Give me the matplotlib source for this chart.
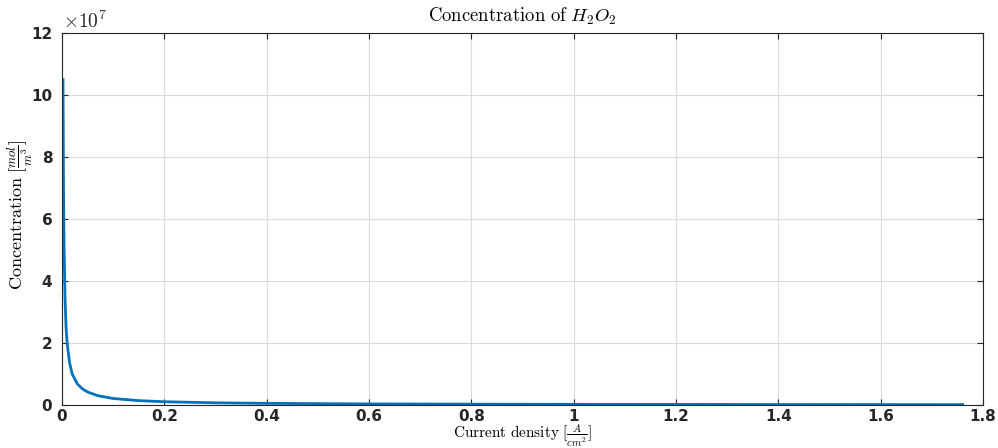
import matplotlib
matplotlib.use('Agg')
import matplotlib.pyplot as plt
from matplotlib.ticker import FuncFormatter

plt.rcParams['mathtext.fontset'] = 'cm'

# current density [A/cm^2] and H2O2 concentration (in units of 1e7 mol/m^3)
current_density = [0.002, 0.003, 0.004, 0.006, 0.008, 0.010, 0.015, 0.020, 0.030, 0.040,
                   0.050, 0.070, 0.100, 0.150, 0.200, 0.300, 0.400, 0.600, 0.800,
                   1.000, 1.200, 1.400, 1.600, 1.760]
concentration_e7 = [10.5, 7.0, 5.2, 3.4, 2.5, 2.0, 1.35, 1.0, 0.68, 0.52,
                    0.42, 0.30, 0.21, 0.14, 0.105, 0.07, 0.053, 0.035, 0.027,
                    0.021, 0.018, 0.015, 0.013, 0.012]

xticks = [0, 0.2, 0.4, 0.6, 0.8, 1, 1.2, 1.4, 1.6, 1.8]
yticks = [0, 2, 4, 6, 8, 10, 12]

fig = plt.figure(figsize=(9.98, 4.48), dpi=100)
ax = fig.add_axes([0.0621, 0.096, 0.923, 0.830])

ax.plot(current_density, concentration_e7, color='#0072BD', linewidth=2)

ax.set_xlim(0, 1.8)
ax.set_ylim(0, 12)
ax.set_xticks(xticks)
ax.set_yticks(yticks)
ax.xaxis.set_major_formatter(FuncFormatter(lambda v, p: '%g' % v))
ax.yaxis.set_major_formatter(FuncFormatter(lambda v, p: '%g' % v))

for lab in ax.get_xticklabels() + ax.get_yticklabels():
    lab.set_fontweight('bold')
    lab.set_fontsize(11)
    lab.set_color('#262626')

ax.tick_params(direction='in', top=True, right=True, length=4, color='#262626')
ax.tick_params(axis='x', pad=3)
ax.tick_params(axis='y', pad=7)
ax.grid(True, color='#dcdcdc', linewidth=0.8)
ax.set_axisbelow(True)
for s in ax.spines.values():
    s.set_color('#262626')
    s.set_linewidth(0.8)

ax.set_title(r'$\mathrm{Concentration\ of\ }H_2O_2$', fontsize=13.5, pad=8)
ax.set_xlabel(r'$\mathrm{Current\ density}\ [\frac{A}{cm^2}]$', fontsize=11, va='center')
ax.xaxis.set_label_coords(0.5, -0.083)
ax.set_ylabel(r'$\mathrm{Concentration}\ [\frac{mol}{m^3}]$', fontsize=13, va='center')
ax.yaxis.set_label_coords(-0.045, 0.513)

# exponent label above the y axis
ax.text(0.001, 1.003, r'$\times\mathsf{10}^{\mathsf{7}}$', transform=ax.transAxes,
        fontsize=14, color='#262626', va='bottom')

fig.savefig('out.png', dpi=100)
